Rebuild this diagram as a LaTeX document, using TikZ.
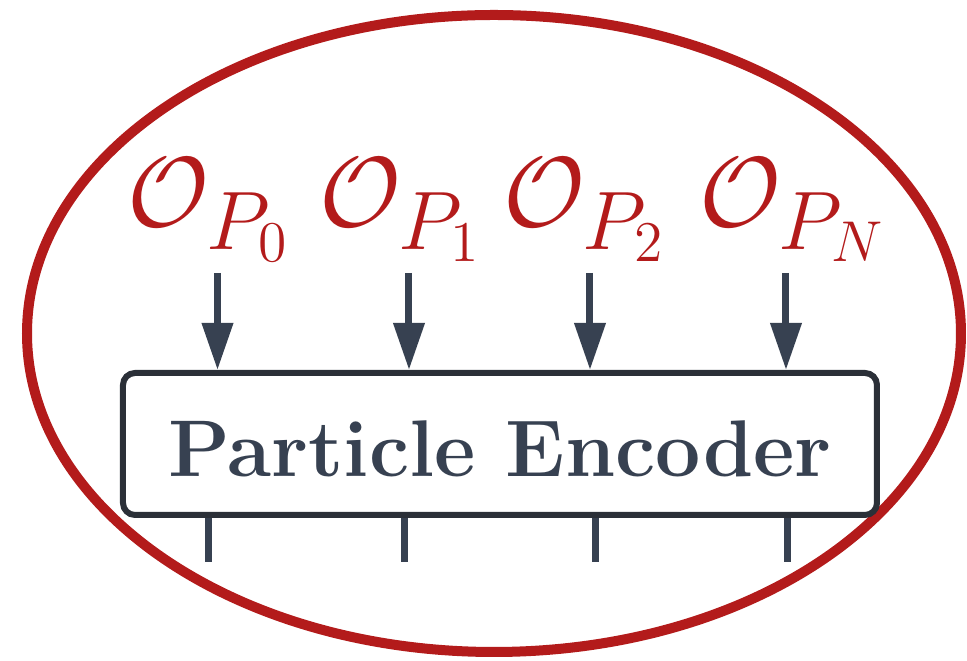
\documentclass[tikz,border=0pt]{standalone}
\usetikzlibrary{arrows.meta,positioning,calc}
\definecolor{ringred}{HTML}{B31B1B}
\definecolor{slate}{HTML}{374151}
\definecolor{slatedark}{HTML}{2B3038}

\begin{document}
\begin{tikzpicture}[x=0.25pt,y=-0.25pt,
	feed/.style={draw=slate,line width=1.75pt,-{Triangle[length=11.75pt,width=7.5pt]}},
	stub/.style={draw=slate,line width=1.75pt},
	obs/.style={text=ringred,anchor=base,inner sep=0pt,font=\fontsize{30}{36}\selectfont},
	encoder/.style={draw=slatedark,line width=1.5pt,rounded corners=3pt,text=slate,
		minimum width=188.5pt,minimum height=35.5pt,inner sep=0pt,
		text height=16.5pt,text depth=0pt,
		font=\fontsize{20.1}{24}\selectfont\bfseries}]
	\useasboundingbox (0,0) rectangle (967,661);
	
	% outer ring
	\draw[ringred,line width=2.5pt] (494,333.5) ellipse [x radius=467,y radius=318.5];
	
	% encoder block
	\node[encoder] (enc) at (500,444) {Particle Encoder};
	
	% inputs
	\coordinate (a0) at (217.5,273);
	\coordinate (a1) at (409,273);
	\coordinate (a2) at (590,273);
	\coordinate (aN) at (786,273);
	
	% outputs
	\coordinate (b0) at (209,562);
	\coordinate (b1) at (404.5,562);
	\coordinate (b2) at (596,562);
	\coordinate (bN) at (788,562);
	
	% observables
	\node[obs] (o0) at (209,227) {$\mathcal{O}_{P_0}$};
	\node[obs] (o1) at (401,227) {$\mathcal{O}_{P_1}$};
	\node[obs] (o2) at (585,227) {$\mathcal{O}_{P_2}$};
	\node[obs] (oN) at (793,227) {$\mathcal{O}_{P_N}$};
	
	% arrows into the encoder
	\draw[feed] (a0) -- (a0 |- enc.north);
	\draw[feed] (a1) -- (a1 |- enc.north);
	\draw[feed] (a2) -- (a2 |- enc.north);
	\draw[feed] (aN) -- (aN |- enc.north);
	
	% stubs out of the encoder
	\draw[stub] (enc.south -| b0) -- (b0);
	\draw[stub] (enc.south -| b1) -- (b1);
	\draw[stub] (enc.south -| b2) -- (b2);
	\draw[stub] (enc.south -| bN) -- (bN);
\end{tikzpicture}
\end{document}
